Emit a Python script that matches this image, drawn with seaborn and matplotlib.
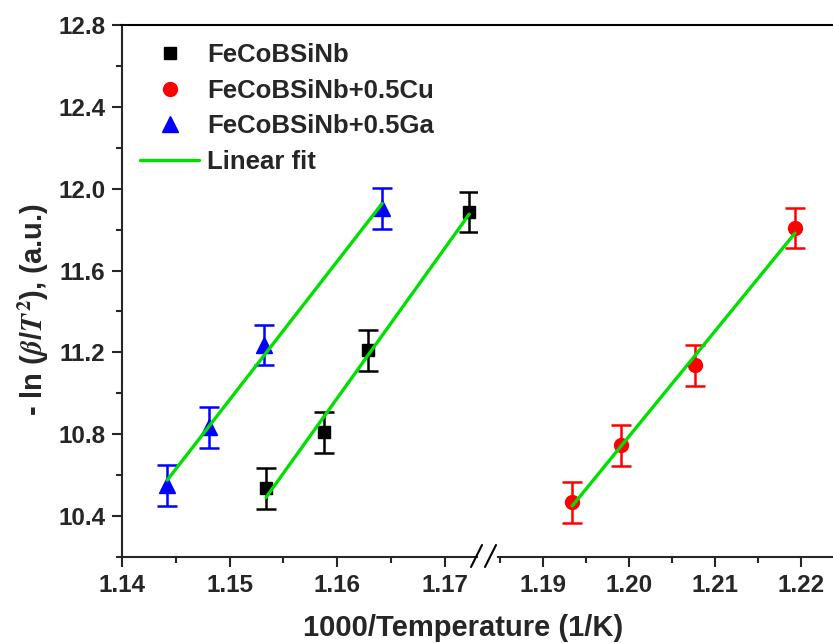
import numpy as np
import pandas as pd
import matplotlib
matplotlib.use("Agg")
import matplotlib.pyplot as plt
import seaborn as sns
from matplotlib.lines import Line2D
from matplotlib.ticker import MultipleLocator

# data
x_nb = [1.1534, 1.1588, 1.1629, 1.1723]
y_nb = [10.535, 10.81, 11.21, 11.886]
x_cu = [1.1934, 1.1991, 1.2077, 1.2193]
y_cu = [10.468, 10.747, 11.138, 11.808]
x_ga = [1.1442, 1.1481, 1.1532, 1.1642]
y_ga = [10.55, 10.835, 11.236, 11.905]
err = 0.1

labels = ["FeCoBSiNb", "FeCoBSiNb+0.5Cu", "FeCoBSiNb+0.5Ga", "Linear fit"]
left_ticks = [1.14, 1.15, 1.16, 1.17]
right_ticks = [1.19, 1.20, 1.21, 1.22]

sns.set_style("ticks")
plt.rcParams["font.family"] = ["Liberation Sans", "DejaVu Sans"]
plt.rcParams["font.weight"] = "bold"
plt.rcParams["mathtext.fontset"] = "stix"

fig = plt.figure(figsize=(8.33, 6.43), dpi=100)
W, H = 833, 643
y0, y1 = 557, 25
ax1 = fig.add_axes([122 / W, 1 - y0 / H, (477 - 122) / W, (y0 - y1) / H])
ax2 = fig.add_axes([498 / W, 1 - y0 / H, (833 - 498) / W, (y0 - y1) / H], sharey=ax1)

green = "#00e000"


def fit_line(ax, x, y):
    k, b = np.polyfit(x, y, 1)
    xs = np.array([x[0], x[-1]])
    df = pd.DataFrame({"x": xs, "y": k * xs + b})
    sns.lineplot(data=df, x="x", y="y", ax=ax, color=green, lw=2.4, zorder=4)


kw = dict(yerr=err, ls="none", capsize=7, elinewidth=1.8, capthick=1.8, zorder=3)
for ax in (ax1, ax2):
    ax.errorbar(x_nb, y_nb, fmt="s", color="black", ms=9, **kw)
    ax.errorbar(x_cu, y_cu, fmt="o", color="red", ms=10, **kw)
    ax.errorbar(x_ga, y_ga, fmt="^", color="blue", ms=11, **kw)
    fit_line(ax, x_nb, y_nb)
    fit_line(ax, x_cu, y_cu)
    fit_line(ax, x_ga, y_ga)
    ax.set_xlabel("")
    ax.set_ylabel("")
    ax.xaxis.set_minor_locator(MultipleLocator(0.005))
    ax.tick_params(which="major", length=7, width=1.5, labelsize=17.5, direction="out", pad=5)
    ax.tick_params(which="minor", length=4, width=1.5, direction="out")
    for s in ax.spines.values():
        s.set_linewidth(1.5)
    ax.spines["right"].set_visible(False)
    ax.spines["top"].set_visible(False)

ax1.set_xlim(1.14, 1.14 + 355 / 10750)
ax2.set_xlim(1.19 - 45 / 8600, 1.22 + 32 / 8600)
ax1.set_ylim(10.2, 12.8)
ax1.yaxis.set_major_locator(MultipleLocator(0.4))
ax1.yaxis.set_minor_locator(MultipleLocator(0.2))
ax1.set_xticks(left_ticks)
ax2.set_xticks(right_ticks)
ax1.set_xticklabels([f"{v:.2f}" for v in left_ticks], fontweight="bold")
ax2.set_xticklabels([f"{v:.2f}" for v in right_ticks], fontweight="bold")
ax1.set_yticks(ax1.get_yticks())
ax1.set_yticklabels([f"{v:.1f}" for v in ax1.get_yticks()], fontweight="bold")
ax1.set_ylim(10.2, 12.8)
ax2.spines["left"].set_visible(False)
ax2.tick_params(axis="y", which="both", left=False, labelleft=False)

# continuous top frame line and break marks on the x axis
fig.add_artist(Line2D([121 / W, 1.0], [1 - y1 / H] * 2, color="black", lw=1.5))
for xa, xb in [(471, 482), (485, 496)]:
    fig.add_artist(Line2D([xa / W, xb / W], [1 - 567 / H, 1 - 545 / H], color="black", lw=1.5))

handles = [
    Line2D([], [], marker="s", color="black", ls="none", ms=9),
    Line2D([], [], marker="o", color="red", ls="none", ms=10),
    Line2D([], [], marker="^", color="blue", ls="none", ms=11),
    Line2D([], [], color=green, lw=2.4),
]
ax1.legend(handles, labels, loc="upper left", frameon=False, prop={"weight": "bold", "size": 18.5},
           bbox_to_anchor=(0.0, 1.0), handlelength=2.3, handletextpad=0.3, labelspacing=0.45,
           borderaxespad=0.3)

fig.text(463 / W, 1 - 628 / H, "1000/Temperature (1/K)", ha="center", va="center",
         fontsize=21, fontweight="bold")
fig.text(33 / W, 1 - 310 / H, r"- ln ($\beta$/$T^2$), (a.u.)", ha="center", va="center",
         rotation=90, fontsize=21, fontweight="bold")

fig.savefig("out.png", dpi=100)
